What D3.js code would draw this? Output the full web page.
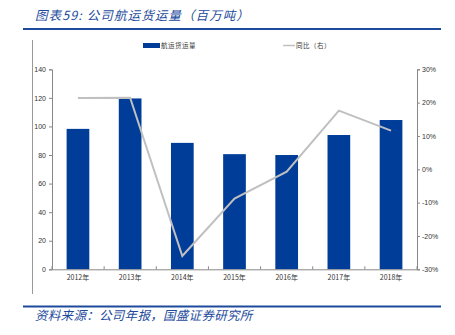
<!DOCTYPE html>
<html><head><meta charset="utf-8">
<script src="https://cdn.jsdelivr.net/npm/d3@7"></script>
<style>body{margin:0;background:#fff}svg{display:block}</style>
</head><body>
<script>
const categories = ["2012年","2013年","2014年","2015年","2016年","2017年","2018年"];
const volume = [98.3, 119.6, 88.5, 80.6, 80.0, 94.0, 104.5];
const yoy = [21.4, 21.5, -26.0, -8.8, -0.7, 17.6, 11.6];
const leftTicks = [0,20,40,60,80,100,120,140];
const rightTicks = [-30,-20,-10,0,10,20,30];
const title = "图表59: 公司航运货运量（百万吨）";
const source = "资料来源：公司年报，国盛证券研究所";
const seriesNames = ["航运货运量","同比（右）"];

const W=455,H=335;
const svg=d3.select("body").append("svg").attr("width",W).attr("height",H);
const font="'Noto Sans CJK SC', sans-serif";
const m={l:52,r:417,t:69.3,b:269.3};
const x=d3.scaleBand().domain(categories).range([m.l,m.r]).paddingInner(0.565).paddingOuter(0.28);
const y=d3.scaleLinear().domain([0,140]).range([m.b,m.t]);
const y2=d3.scaleLinear().domain([-30,30]).range([m.b,m.t]);
const blue="#003d99", dark="#1d4a9c";

// frame
svg.append("line").attr("x1",23).attr("x2",441).attr("y1",29).attr("y2",29).attr("stroke",dark).attr("stroke-width",2);
svg.append("line").attr("x1",23).attr("x2",441).attr("y1",306.5).attr("y2",306.5).attr("stroke",dark).attr("stroke-width",2);
svg.append("line").attr("x1",32.5).attr("x2",32.5).attr("y1",40).attr("y2",294).attr("stroke","#999").attr("stroke-width",1);
svg.append("text").attr("x",35).attr("y",20).attr("font-family",font).attr("font-style","italic").attr("font-size",12.5).attr("letter-spacing",1.1).attr("fill",dark).text(title);
svg.append("text").attr("x",35).attr("y",320).attr("font-family",font).attr("font-style","italic").attr("font-size",12.5).attr("letter-spacing",0.3).attr("fill",dark).text(source);

// bars
svg.selectAll("rect.bar").data(volume).join("rect").attr("class","bar")
 .attr("x",(d,i)=>x(categories[i])).attr("width",x.bandwidth())
 .attr("y",d=>y(d)).attr("height",d=>y(0)-y(d)).attr("fill",blue);

// line
const line=d3.line().x((d,i)=>x(categories[i])+x.bandwidth()/2).y(d=>y2(d));
svg.append("path").datum(yoy).attr("d",line).attr("fill","none").attr("stroke","#c0c0c0").attr("stroke-width",2);

// axes
const axL=svg.append("g").attr("transform",`translate(${m.l},0)`).call(d3.axisLeft(y).tickValues(leftTicks).tickSize(3).tickPadding(3));
const axR=svg.append("g").attr("transform",`translate(${m.r},0)`).call(d3.axisRight(y2).tickValues(rightTicks).tickSize(3).tickPadding(2).tickFormat(d=>d+"%"));
const axB=svg.append("g").attr("transform",`translate(0,${m.b})`).call(d3.axisBottom(x).tickSize(0).tickPadding(6));
axB.selectAll(".bt").data(d3.range(categories.length+1)).join("line").attr("class","bt")
 .attr("x1",i=>m.l+i*(m.r-m.l)/categories.length).attr("x2",i=>m.l+i*(m.r-m.l)/categories.length)
 .attr("y1",0).attr("y2",-3).attr("stroke","#888");
[axL,axR,axB].forEach(a=>{
 a.selectAll("path.domain").attr("stroke","#888");
 a.selectAll(".tick line").attr("stroke","#888");
 a.selectAll("text").attr("font-family","'Liberation Sans', Arial, sans-serif").attr("font-size",7).attr("fill","#333");
});
axB.selectAll("text").attr("font-family",font);

// legend
svg.append("rect").attr("x",143).attr("y",43).attr("width",17).attr("height",5).attr("fill",blue);
svg.append("text").attr("x",161).attr("y",48).attr("font-family",font).attr("font-size",6.5).attr("letter-spacing",0.5).attr("fill","#333").text(seriesNames[0]);
svg.append("line").attr("x1",283).attr("x2",295).attr("y1",45.5).attr("y2",45.5).attr("stroke","#c0c0c0").attr("stroke-width",1.5);
svg.append("text").attr("x",296).attr("y",48).attr("font-family",font).attr("font-size",6.5).attr("letter-spacing",0.5).attr("fill","#333").text(seriesNames[1]);
</script>
</body></html>
